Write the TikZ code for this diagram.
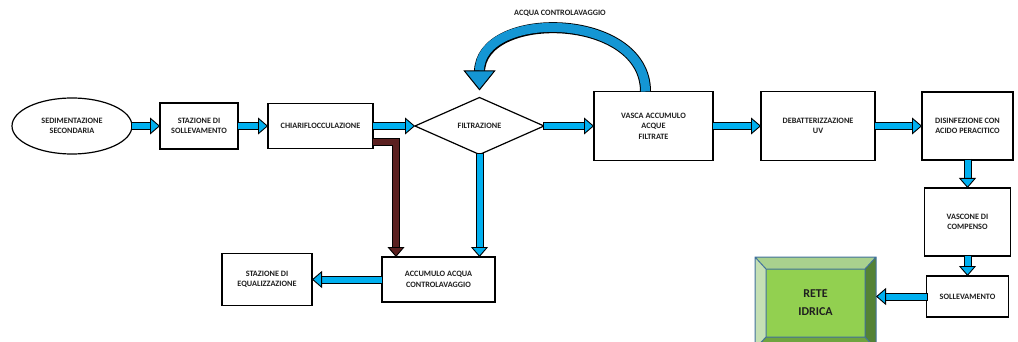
\documentclass[tikz,border=0pt]{standalone}
\usepackage{fontspec}
\setmainfont{Carlito}
\usetikzlibrary{arrows.meta,shapes.geometric,positioning}

\definecolor{pipeblue}{HTML}{00B0F0}
\definecolor{washblue}{HTML}{1496D4}
\definecolor{sludge}{HTML}{5B2020}
\definecolor{txt}{HTML}{1F1F1F}
\definecolor{bevline}{HTML}{41719C}
\definecolor{bevtop}{HTML}{A9D18E}
\definecolor{bevleft}{HTML}{C5E0B4}
\definecolor{bevright}{HTML}{548235}
\definecolor{bevbot}{HTML}{6FA43F}
\definecolor{bevface}{HTML}{92D050}

\tikzset{
  blockbox/.style={draw, line width=1.2pt, fill=white, align=center, inner sep=1pt, outer sep=0pt,
    text=txt, font=\fontsize{8.2}{10.5}\selectfont\bfseries},
  flowarrow/.style={line width=6pt, draw=pipeblue, line join=miter,
    preaction={draw=black, line width=8pt, -, shorten >=9pt, shorten <=-1pt},
    -{Triangle[length=10pt,width=17pt,fill=pipeblue,color=black,line width=0.9pt]}},
  sludgearrow/.style={flowarrow, draw=sludge,
    -{Triangle[length=10pt,width=17pt,fill=sludge,color=black,line width=0.9pt]}},
  washarrow/.style={line width=9pt, draw=washblue,
    preaction={draw=black, line width=11pt, -, shorten >=18pt},
    -{Triangle[length=20pt,width=32pt,fill=washblue,color=black,line width=1pt]}}
}

\begin{document}
\begin{tikzpicture}[x=1pt, y=-1pt]
\useasboundingbox (0,0) rectangle (1018,342);

% main line
\node[blockbox, ellipse, minimum width=120pt, minimum height=56pt] (sed) at (72,126) {SEDIMENTAZIONE\\SECONDARIA};
\node[blockbox, minimum width=78pt, minimum height=46pt, right=28pt of sed] (sollev) {STAZIONE DI\\SOLLEVAMENTO};
\node[blockbox, minimum width=105pt, minimum height=45pt, right=30pt of sollev] (chiari) {CHIARIFLOCCULAZIONE};
\node[blockbox, diamond, aspect=2.26, minimum width=129pt, minimum height=57pt, right=42pt of chiari] (filtr) {FILTRAZIONE};
\node[blockbox, minimum width=119pt, minimum height=69pt, right=50pt of filtr] (vasca) {VASCA ACCUMULO\\ACQUE\\FILTRATE};
\node[blockbox, minimum width=114pt, minimum height=69pt, right=48pt of vasca] (debatt) {DEBATTERIZZAZIONE\\UV};
\node[blockbox, minimum width=91pt, minimum height=68pt, right=47pt of debatt] (disinf) {DISINFEZIONE CON\\ACIDO PERACITICO};
\node[blockbox, minimum width=86pt, minimum height=68pt, below=28pt of disinf] (compenso) {VASCONE DI\\COMPENSO};
\node[blockbox, minimum width=82pt, minimum height=41pt, below=20pt of compenso] (sollevb) {SOLLEVAMENTO};

% backwash line
\node[blockbox, minimum width=113pt, minimum height=45pt] (accum) at (438.5,279.5) {ACCUMULO ACQUA\\CONTROLAVAGGIO};
\node[blockbox, minimum width=90pt, minimum height=52pt, left=70pt of accum] (equal) {STAZIONE DI\\EQUALIZZAZIONE};
\node[text=txt, font=\fontsize{8.2}{9}\selectfont\bfseries] (acqlbl) at (560,13) {ACQUA CONTROLAVAGGIO};

% rete idrica (bevel box)
\node[fill=bevface, minimum width=99pt, minimum height=68pt, inner sep=0pt, outer sep=0pt, align=center,
  text=txt, font=\fontsize{12}{18}\selectfont\bfseries] (rete) at (815.5,303) {RETE\\IDRICA};
\coordinate (rnw) at ([xshift=-11pt,yshift=12pt]rete.north west);
\coordinate (rne) at ([xshift=11pt,yshift=12pt]rete.north east);
\coordinate (rse) at ([xshift=11pt,yshift=-12pt]rete.south east);
\coordinate (rsw) at ([xshift=-11pt,yshift=-12pt]rete.south west);
\fill[bevtop] (rnw) -- (rne) -- (rete.north east) -- (rete.north west) -- cycle;
\fill[bevleft] (rnw) -- (rsw) -- (rete.south west) -- (rete.north west) -- cycle;
\fill[bevright] (rne) -- (rse) -- (rete.south east) -- (rete.north east) -- cycle;
\fill[bevbot] (rsw) -- (rse) -- (rete.south east) -- (rete.south west) -- cycle;
\draw[bevline, line width=1pt] (rnw) rectangle (rse)
  (rete.north west) rectangle (rete.south east)
  (rnw) -- (rete.north west) (rne) -- (rete.north east)
  (rse) -- (rete.south east) (rsw) -- (rete.south west);
\coordinate (reteedge) at (rse);

% connectors
\draw[flowarrow] (sed) -- (sollev);
\draw[flowarrow] (sollev) -- (chiari);
\draw[flowarrow] (chiari) -- (filtr);
\draw[flowarrow] (filtr) -- (vasca);
\draw[flowarrow] (vasca) -- (debatt);
\draw[flowarrow] (debatt) -- (disinf);
\draw[flowarrow] (disinf) -- (compenso);
\draw[flowarrow] (compenso) -- (sollevb);
\draw[flowarrow] (sollevb.west) -- (sollevb.west -| reteedge);
\draw[flowarrow] (filtr.south) -- (filtr.south |- accum.north);
\draw[flowarrow] (accum) -- (equal);
\draw[sludgearrow] ([yshift=6pt]chiari.south east) -| ([xshift=14pt]accum.north west);
\draw[washarrow] ([xshift=-8pt]vasca.north) .. controls +(0,-80) and +(0,-82) .. ([yshift=7pt]filtr.north);

\end{tikzpicture}
\end{document}
